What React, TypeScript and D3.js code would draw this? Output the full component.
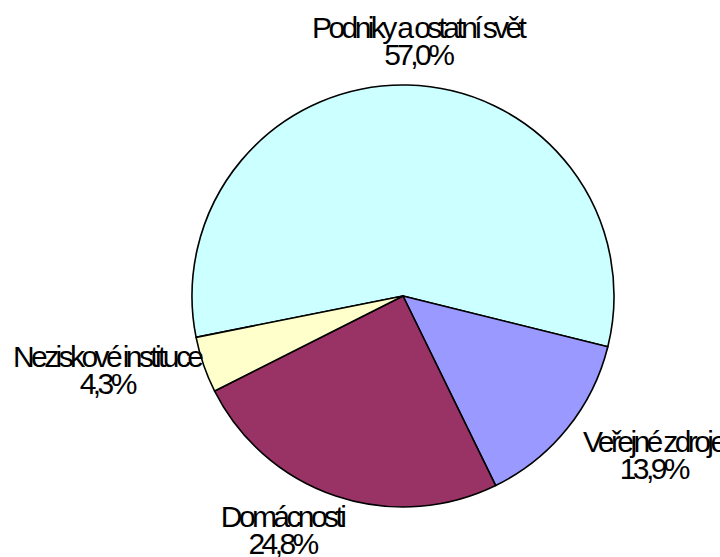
import React from "react";
import * as d3 from "d3";

const categories = ["Podniky a ostatní svět", "Veřejné zdroje", "Domácnosti", "Neziskové instituce"];
const values = [57.0, 13.9, 24.8, 4.3];
const percentLabels = ["57,0%", "13,9%", "24,8%", "4,3%"];
const colors = ["#CCFFFF", "#9999FF", "#993366", "#FFFFCC"];
// label nudges (layout) relative to a radial anchor
const labelNudges: [number, number][] = [[9, 6.5], [55, 12], [-41, 7], [-59, 3]];

const W = 720;
const H = 557;
const cx = 403;
const cy = 296;
const R = 211;
const startDeg = 258.7;

export default function App() {
  const start = (startDeg * Math.PI) / 180;
  const pie = d3
    .pie<number>()
    .sort(null)
    .startAngle(start)
    .endAngle(start + 2 * Math.PI)
    .value((d) => d);
  const arcs = pie(values);
  const arcGen = d3.arc<d3.PieArcDatum<number>>().innerRadius(0).outerRadius(R);

  return (
    <svg
      width={W}
      height={H}
      style={{ position: "absolute", left: 0, top: 0, background: "#fff" }}
      fontFamily="'Liberation Sans', Arial, sans-serif"
    >
      <g transform={`translate(${cx},${cy})`}>
        {arcs.map((a, i) => (
          <path key={i} d={arcGen(a) || ""} fill={colors[i]} stroke="#000" strokeWidth={1.6} strokeLinejoin="round" />
        ))}
        {arcs.map((a, i) => {
          const mid = (a.startAngle + a.endAngle) / 2;
          const [px, py] = d3.pointRadial(mid, R + 40);
          const x = px + labelNudges[i][0];
          const y = py + labelNudges[i][1];
          return (
            <text
              key={"t" + i}
              x={x}
              y={y}
              textAnchor="middle"
              fontSize={30}
              letterSpacing={-3.6}
              wordSpacing={-1}
              fill="#000"
            >
              <tspan x={x} dy={-13.5}>{categories[i]}</tspan>
              <tspan x={x} dy={27}>{percentLabels[i]}</tspan>
            </text>
          );
        })}
      </g>
    </svg>
  );
}
